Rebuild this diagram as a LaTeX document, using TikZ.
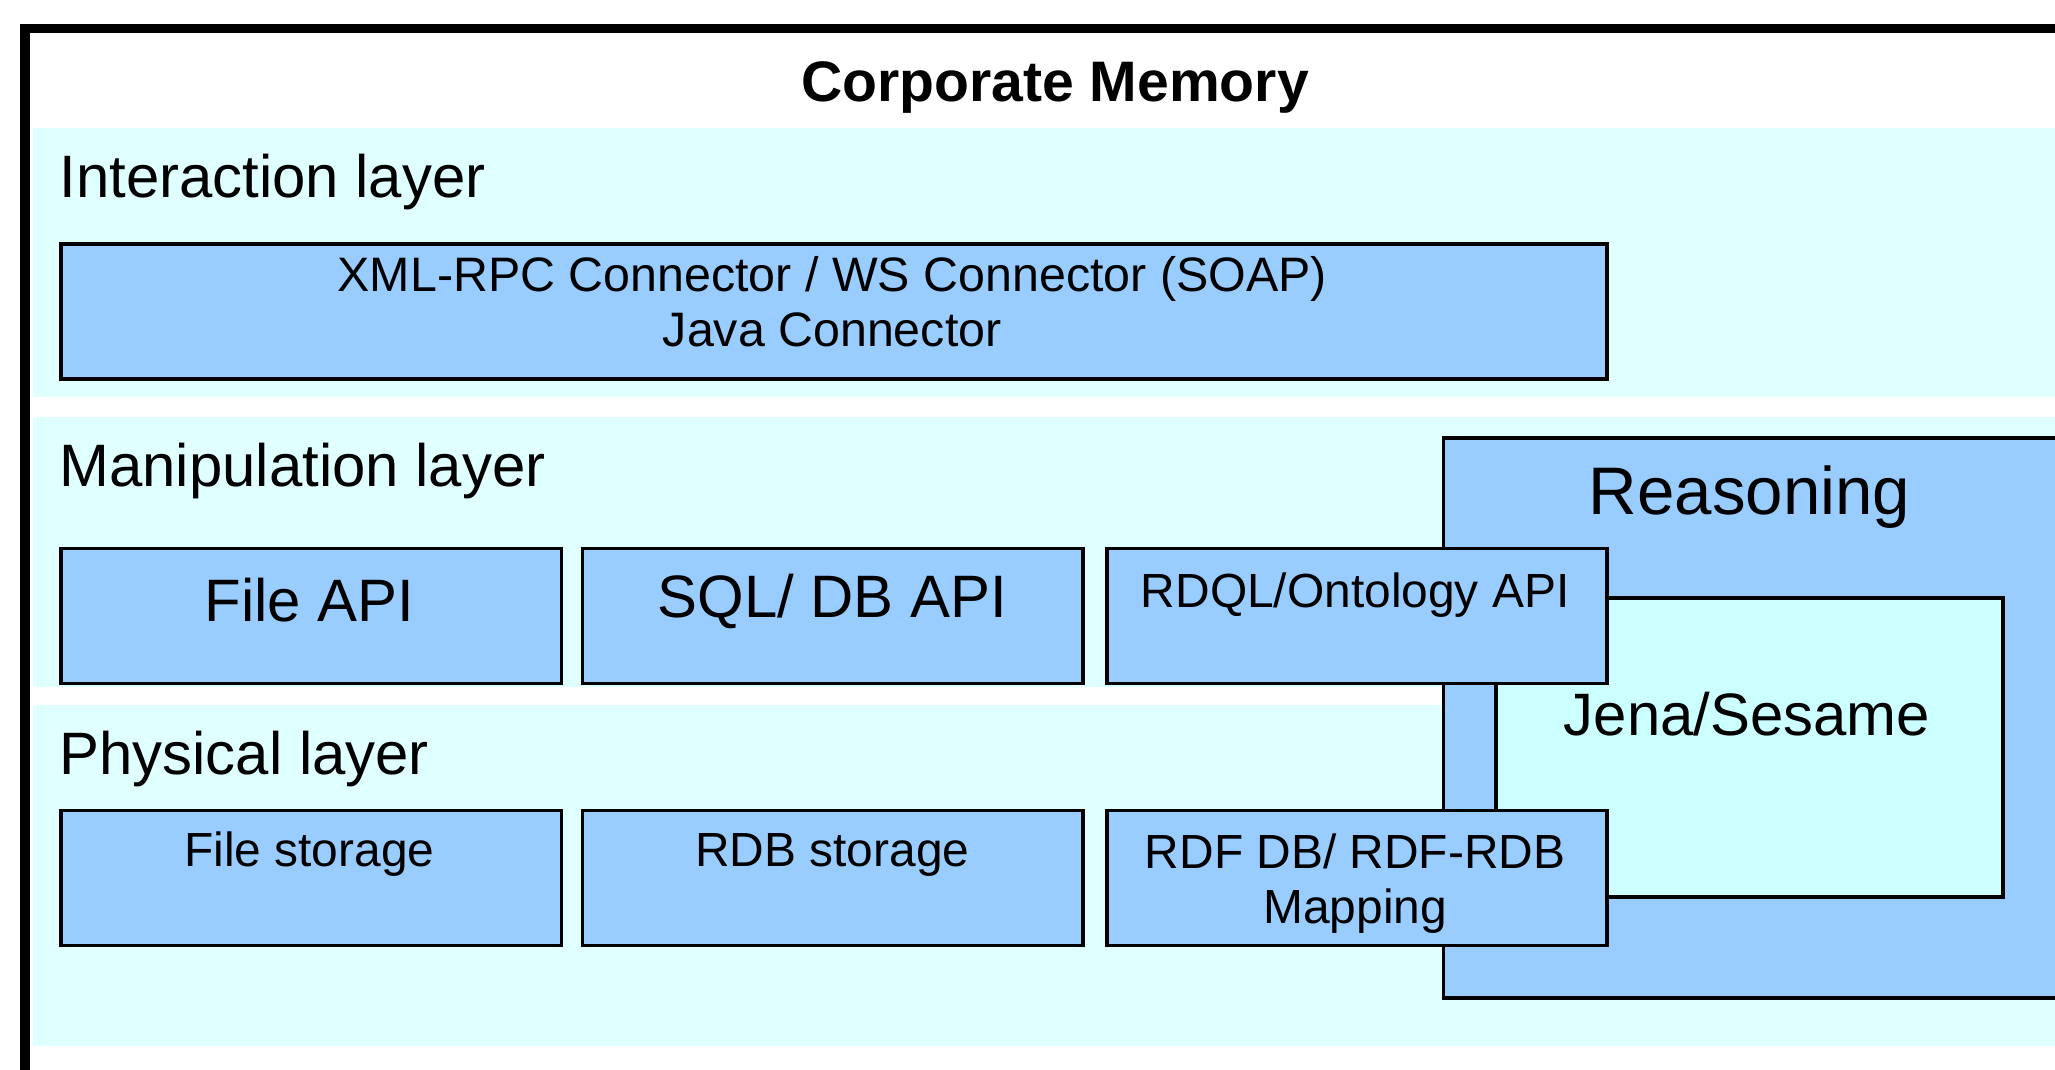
\documentclass[tikz,border=0pt]{standalone}
\usepackage{fontspec}
\setmainfont{Liberation Sans}
\definecolor{boxblue}{RGB}{153,204,255}
\definecolor{bandcyan}{RGB}{224,255,255}
\definecolor{jenacyan}{RGB}{204,255,255}

\begin{document}
\begin{tikzpicture}[line width=0.8pt,
  box/.style={draw,fill=boxblue,anchor=north west,inner sep=0pt,minimum width=3.82cm,minimum height=1.03cm},
  big/.style={font=\fontsize{13}{15.6}\selectfont,inner sep=0pt},
  small/.style={font=\fontsize{10.4}{12}\selectfont,inner sep=0pt,align=center},
  lay/.style={big,anchor=west}]
\useasboundingbox (0,0) rectangle (15.68,-8.16);
\clip (0,0) rectangle (15.68,-8.16);
% frame and layer bands
\draw[line width=2pt,fill=white] (0.19,-0.22) rectangle (16.5,-9);
\fill[bandcyan] (0.25,-0.98) rectangle (15.68,-3.03);
\fill[bandcyan] (0.25,-3.18) rectangle (15.68,-5.24);
\fill[bandcyan] (0.25,-5.38) rectangle (15.68,-7.98);
\node[font=\bfseries\fontsize{12.4}{15}\selectfont,inner sep=0pt] (title) at (8.05,-0.67) {Corporate Memory};
\node[lay] (ilay) at (0.44,-1.39) {Interaction layer};
\node[lay] (mlay) at (0.44,-3.59) {Manipulation layer};
\node[lay] (play) at (0.44,-5.79) {Physical layer};
% interaction
\node[box,minimum width=11.8cm] (iact) at (0.45,-1.85) {};
\node[small,font=\fontsize{10.5}{12}\selectfont] (iacttxt) at (6.35,-2.30) {XML-RPC Connector / WS Connector (SOAP)\\Java Connector};
% reasoning
\node[box,minimum width=5.5cm,minimum height=4.27cm] (reas) at (11.00,-3.33) {};
\node[font=\fontsize{14.6}{17}\selectfont,inner sep=0pt] (reastxt) at (13.35,-3.79) {Reasoning};
\node[box,fill=jenacyan,minimum width=3.87cm,minimum height=2.28cm] (jena) at (11.40,-4.55) {};
\node[big] (jenatxt) at (13.33,-5.45) {Jena/Sesame};
% manipulation and physical boxes
\foreach \i/\x in {1/0.45,2/4.43,3/8.43}{
  \node[box] (m\i) at (\x,-4.17) {};
  \node[box] (p\i) at (\x,-6.17) {};
}
\node[big] (m1txt) at (2.36,-4.58) {File API};
\node[big] (m2txt) at (6.35,-4.59) {SQL/ DB API};
\node[small] (m3txt) at (10.34,-4.54) {RDQL/Ontology API};
\node[small] (p1txt) at (2.36,-6.52) {File storage};
\node[small] (p2txt) at (6.35,-6.52) {RDB storage};
\node[small] (p3txt) at (10.34,-6.74) {RDF DB/ RDF-RDB\\Mapping};
\end{tikzpicture}
\end{document}
